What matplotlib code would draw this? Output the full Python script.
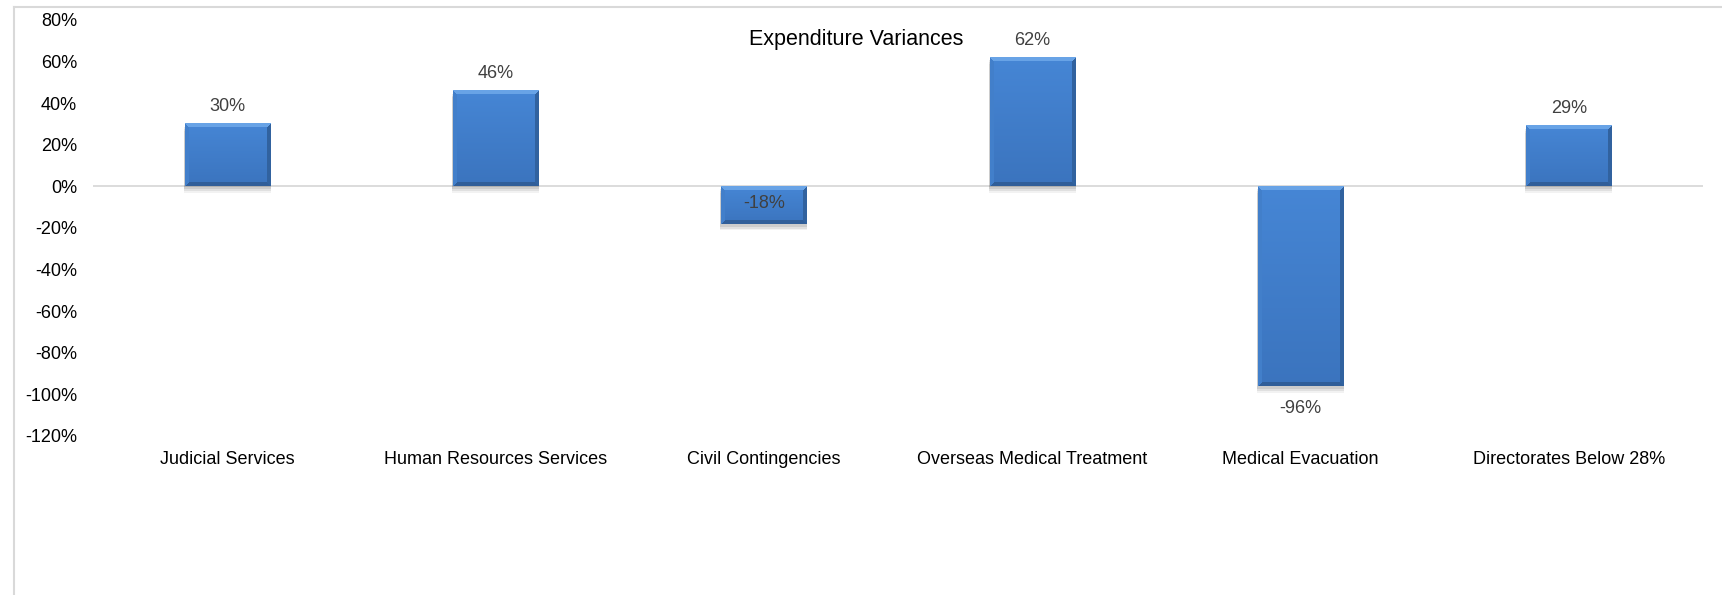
import numpy as np
import matplotlib
matplotlib.use("Agg")
import matplotlib.pyplot as plt
from matplotlib.lines import Line2D
from matplotlib.ticker import FuncFormatter, MultipleLocator
import matplotlib.colors as mcolors

plt.rcParams['font.family'] = ['Liberation Sans', 'DejaVu Sans']

categories = ["Judicial Services", "Human Resources Services", "Civil Contingencies",
              "Overseas Medical Treatment", "Medical Evacuation", "Directorates Below 28%"]
values = [0.30, 0.46, -0.18, 0.62, -0.96, 0.29]
labels = ["30%", "46%", "-18%", "62%", "-96%", "29%"]
title = "Expenditure Variances"

W, H = 1722, 595
fig = plt.figure(figsize=(W / 100, H / 100), dpi=100)
ax = fig.add_axes([93 / W, 1 - 436 / H, (1703 - 93) / W, (436 - 20) / H])

x = np.arange(len(categories))
bars = ax.bar(x, values, width=0.317, color='#3F7DCB', zorder=3)
ax.set_xlim(-0.5, len(categories) - 0.5)
ax.set_ylim(-1.2, 0.8)
ax.yaxis.set_major_locator(MultipleLocator(0.2))
ax.yaxis.set_major_formatter(FuncFormatter(lambda v, p: f"{v*100:.0f}%"))
ax.set_xticks(x)
ax.set_xticklabels(categories)
ax.tick_params(axis='both', length=0, labelsize=13, colors='black')
ax.tick_params(axis='y', pad=11.5)
ax.tick_params(axis='x', pad=10.5)
for s in ax.spines.values():
    s.set_visible(False)
ax.axhline(0, color='#D9D9D9', lw=1.3, zorder=2)

fig.canvas.draw()


def hexrgb(h):
    return np.array(mcolors.to_rgb(h))


base_top = hexrgb('#4686D5')
base_bot = hexrgb('#3B74BE')
c_top = hexrgb('#68A3E6')
c_left = hexrgb('#427FCA')
c_right = hexrgb('#31629F')
c_bot = hexrgb('#305E99')
for b in bars:
    x0, y0 = b.get_x(), b.get_y()
    w, h = b.get_width(), b.get_height()
    (px0, py0) = ax.transData.transform((x0, y0))
    (px1, py1) = ax.transData.transform((x0 + w, y0 + h))
    wp = int(round(abs(px1 - px0)))
    hp = int(round(abs(py1 - py0)))
    if wp < 2 or hp < 2:
        continue
    ii, jj = np.mgrid[0:hp, 0:wp]
    t = ii / max(hp - 1, 1)
    img = base_top[None, None, :] * (1 - t[..., None]) + base_bot[None, None, :] * t[..., None]
    bw = 4
    dt = ii
    db = hp - 1 - ii
    dl = jj
    dr = wp - 1 - jj
    dmin = np.minimum(np.minimum(dt, db), np.minimum(dl, dr))
    band = dmin < bw
    img[band & (dt == dmin)] = c_top
    img[band & (dl == dmin) & (dt != dmin)] = c_left
    img[band & (dr == dmin) & (dt != dmin)] = c_right
    img[band & (db == dmin) & (dl != dmin) & (dr != dmin)] = c_bot
    ylo, yhi = min(y0, y0 + h), max(y0, y0 + h)
    # soft shadow
    sh_off = 3 / (ax.bbox.height / 2.0)
    dxp = 3 / (ax.bbox.width / len(categories))
    for k, a in enumerate([0.09, 0.07, 0.05]):
        ax.add_patch(plt.Rectangle((x0 - dxp * 0.3, ylo - sh_off * (1 + 0.6 * k)),
                                   w + dxp * 0.6, yhi - ylo,
                                   facecolor='black', alpha=a, lw=0, zorder=2.5))
    ax.imshow(img, extent=(x0, x0 + w, ylo, yhi), aspect='auto', zorder=4,
              interpolation='nearest')
    b.set_visible(False)

ax.set_xlim(-0.5, len(categories) - 0.5)
ax.set_ylim(-1.2, 0.8)

for xi, v, lab in zip(x, values, labels):
    if v >= 0:
        ax.annotate(lab, (xi, v), xytext=(0, 12.5), textcoords='offset points',
                    ha='center', va='center', fontsize=13, color='#404040', zorder=5)
    elif v > -0.25:
        ax.annotate(lab, (xi, v / 2), xytext=(0, 1.5), textcoords='offset points',
                    ha='center', va='center', fontsize=13, color='#404040', zorder=5)
    else:
        ax.annotate(lab, (xi, v), xytext=(0, -16), textcoords='offset points',
                    ha='center', va='center', fontsize=13, color='#404040', zorder=5)

fig.text(856 / W, 1 - 39 / H, title, ha='center', va='center', fontsize=15.5, color='black')

# chart-area border (top and left)
fig.add_artist(Line2D([14 / W, 1], [1 - 6.5 / H, 1 - 6.5 / H], transform=fig.transFigure,
                      color='#D9D9D9', lw=1.5))
fig.add_artist(Line2D([14 / W, 14 / W], [0, 1 - 6.5 / H], transform=fig.transFigure,
                      color='#D9D9D9', lw=1.5))

fig.savefig("out.png", dpi=100)
